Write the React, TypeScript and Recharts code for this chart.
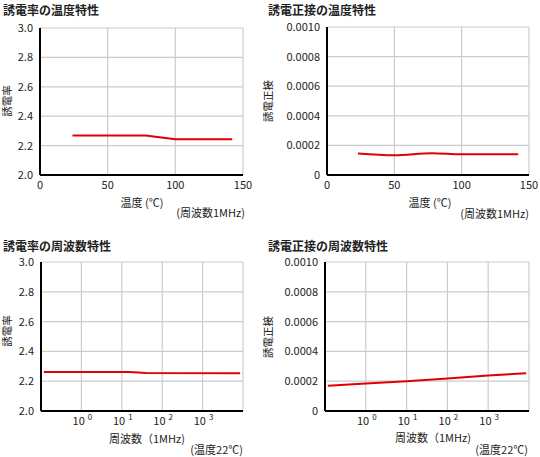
import React from 'react';
import { LineChart, Line, XAxis, YAxis, CartesianGrid } from 'recharts';

// 誘電率の温度特性
const epsTempX = [24, 78, 100, 142];
const epsTempY = [2.268, 2.268, 2.243, 2.243];
// 誘電正接の温度特性
const tanTempX = [23, 50, 78, 100, 142];
const tanTempY = [0.000146, 0.000134, 0.000147, 0.00014, 0.00014];
// 誘電率の周波数特性 (x = log10 of frequency)
const epsFreqX = [-0.93, 1.2, 1.6, 3.93];
const epsFreqY = [2.262, 2.261, 2.255, 2.254];
// 誘電正接の周波数特性
const tanFreqX = [-0.93, 0, 1, 2, 3, 3.93];
const tanFreqY = [0.000169, 0.000184, 0.0002, 0.000218, 0.000238, 0.000254];

const tempTicks = [0, 50, 100, 150];
const logTicks = [-1, 0, 1, 2, 3, 4];
const epsTicks = [2.0, 2.2, 2.4, 2.6, 2.8, 3.0];
const tanTicks = [0, 0.0002, 0.0004, 0.0006, 0.0008, 0.001];

const FONT = "'Noto Sans CJK JP', 'Noto Sans', sans-serif";
const TEXT = '#222';
const RED = '#e00000';
const GRID = '#cccccc';

const zip = (xs: number[], ys: number[]) => xs.map((x, i) => ({ x, y: ys[i] }));

const fmtEps = (v: number) => v.toFixed(1);
const fmtTan = (v: number) => (v === 0 ? '0' : v.toFixed(4));

const LogTick = (props: any) => {
  const { x, y, payload } = props;
  const v = payload.value;
  if (v < 0 || v > 3) return <g />;
  return (
    <text x={x + 1} y={y} dy="0.71em" textAnchor="middle" fontSize={11} fill={TEXT} fontFamily={FONT}>
      <tspan>10</tspan>
      <tspan dx={3} dy={-5} fontSize={8}>{v}</tspan>
    </text>
  );
};

interface PanelProps {
  left: number;
  top: number;
  height: number;
  data: { x: number; y: number }[];
  xTicks: number[];
  xDomain: [number, number];
  yTicks: number[];
  yDomain: [number, number];
  yFmt: (v: number) => string;
  yWidth: number;
  margin: { top: number; right: number; bottom: number; left: number };
  log?: boolean;
  curve: 'linear' | 'monotone';
}

const Panel = ({ left, top, height, data, xTicks, xDomain, yTicks, yDomain, yFmt, yWidth, margin, log, curve }: PanelProps) => (
  <div style={{ position: 'absolute', left, top }}>
    <LineChart width={270} height={height} data={data} margin={margin}>
      <CartesianGrid stroke={GRID} strokeWidth={1.2} />
      <XAxis
        dataKey="x"
        type="number"
        domain={xDomain}
        ticks={xTicks}
        interval={0}
        height={40}
        tickLine={false}
        tickSize={0}
        tickMargin={6}
        axisLine={{ stroke: '#000', strokeWidth: 2 }}
        tick={log ? <LogTick /> : { fill: TEXT, fontSize: 11, fontFamily: FONT }}
      />
      <YAxis
        type="number"
        domain={yDomain}
        ticks={yTicks}
        interval={0}
        width={yWidth}
        tickLine={false}
        tickSize={0}
        tickMargin={7}
        tickFormatter={yFmt}
        axisLine={{ stroke: '#000', strokeWidth: 2 }}
        tick={{ fill: TEXT, fontSize: 11, fontFamily: FONT }}
      />
      <Line type={curve} dataKey="y" stroke={RED} strokeWidth={2} dot={false} isAnimationActive={false} />
    </LineChart>
  </div>
);

const Txt = ({ x, y, children, anchor = 'left', bold = false, size = 11, rotate = false }: any) => {
  let transform = 'translate(0, -50%)';
  if (anchor === 'center') transform = 'translate(-50%, -50%)';
  if (anchor === 'right') transform = 'translate(-100%, -50%)';
  if (rotate) transform = 'translate(-50%, -50%) rotate(-90deg)';
  return (
    <div
      style={{
        position: 'absolute',
        left: x,
        top: y,
        transform,
        whiteSpace: 'nowrap',
        fontSize: size,
        lineHeight: 1,
        fontWeight: bold ? 700 : 400,
        color: TEXT,
        fontFamily: FONT,
      }}
    >
      {children}
    </div>
  );
};

export default function App() {
  return (
    <div style={{ position: 'absolute', left: 0, top: 0, width: 540, height: 457, background: '#fff', overflow: 'hidden' }}>
      <Panel
        left={0}
        top={0}
        height={228}
        data={zip(epsTempX, epsTempY)}
        xTicks={tempTicks}
        xDomain={[0, 150]}
        yTicks={epsTicks}
        yDomain={[2, 3]}
        yFmt={fmtEps}
        yWidth={40}
        margin={{ top: 28, right: 27, bottom: 13, left: 0 }}
        curve="linear"
      />
      <Panel
        left={270}
        top={0}
        height={228}
        data={zip(tanTempX, tanTempY)}
        xTicks={tempTicks}
        xDomain={[0, 150]}
        yTicks={tanTicks}
        yDomain={[0, 0.001]}
        yFmt={fmtTan}
        yWidth={57}
        margin={{ top: 27, right: 11, bottom: 13, left: 0 }}
        curve="monotone"
      />
      <Panel
        left={0}
        top={228}
        height={229}
        data={zip(epsFreqX, epsFreqY)}
        xTicks={logTicks}
        xDomain={[-1, 4]}
        yTicks={epsTicks}
        yDomain={[2, 3]}
        yFmt={fmtEps}
        yWidth={41}
        margin={{ top: 34, right: 27, bottom: 6, left: 0 }}
        log
        curve="linear"
      />
      <Panel
        left={270}
        top={228}
        height={229}
        data={zip(tanFreqX, tanFreqY)}
        xTicks={logTicks}
        xDomain={[-1, 4]}
        yTicks={tanTicks}
        yDomain={[0, 0.001]}
        yFmt={fmtTan}
        yWidth={55}
        margin={{ top: 34, right: 11, bottom: 6, left: 0 }}
        log
        curve="linear"
      />

      <Txt x={3} y={10} bold size={12}>誘電率の温度特性</Txt>
      <Txt x={7} y={101} rotate size={10.5}>誘電率</Txt>
      <Txt x={142} y={202} anchor="center">温度 (℃)</Txt>
      <Txt x={245} y={212} anchor="right">(周波数1MHz)</Txt>

      <Txt x={268} y={10} bold size={12}>誘電正接の温度特性</Txt>
      <Txt x={268} y={101} rotate size={10.5}>誘電正接</Txt>
      <Txt x={430} y={202} anchor="center">温度 (℃)</Txt>
      <Txt x={529} y={213} anchor="right">(周波数1MHz)</Txt>

      <Txt x={3} y={246} bold size={12}>誘電率の周波数特性</Txt>
      <Txt x={7} y={331} rotate size={10.5}>誘電率</Txt>
      <Txt x={147} y={438} anchor="center">周波数（1MHz)</Txt>
      <Txt x={243} y={449} anchor="right">(温度22℃)</Txt>

      <Txt x={268} y={246} bold size={12}>誘電正接の周波数特性</Txt>
      <Txt x={268} y={337} rotate size={10.5}>誘電正接</Txt>
      <Txt x={433} y={437} anchor="center">周波数（1MHz)</Txt>
      <Txt x={528} y={449} anchor="right">(温度22℃)</Txt>
    </div>
  );
}
